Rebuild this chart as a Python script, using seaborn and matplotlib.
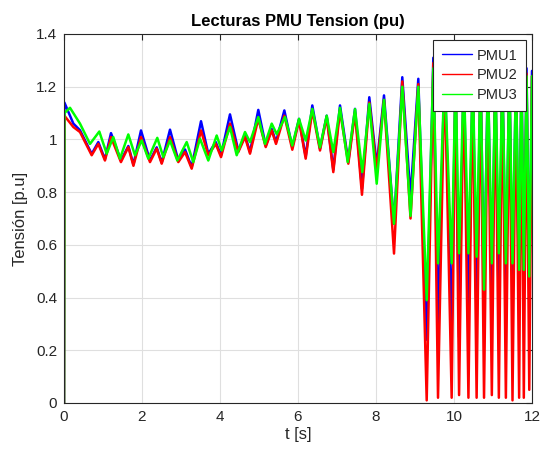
import numpy as np
import pandas as pd
import matplotlib
matplotlib.use("Agg")
import matplotlib.pyplot as plt
import seaborn as sns

# ---- data (peaks / troughs of each trace) ----
t_pmu1 = [0, 0.01, 0.24, 0.41, 0.71, 0.88, 1.05, 1.205, 1.46, 1.65, 1.78, 1.974, 2.205, 2.377, 2.505,
          2.718, 2.931, 3.103, 3.274, 3.513, 3.70, 3.89, 4.026, 4.256, 4.469, 4.641, 4.769, 4.982,
          5.172, 5.326, 5.436, 5.65, 5.854, 6.026, 6.197, 6.367, 6.564, 6.736, 6.905, 7.077, 7.29,
          7.462, 7.64, 7.828, 8.018, 8.205, 8.462, 8.674, 8.885, 9.085,
          9.30, 9.47, 9.59, 9.76, 9.94, 10.04, 10.13, 10.25, 10.37, 10.48, 10.58, 10.68, 10.77, 10.87,
          10.97, 11.06, 11.15, 11.24, 11.33, 11.42, 11.50, 11.59, 11.67, 11.73, 11.79, 11.86, 11.93, 12.0]
v_pmu1 = [0, 1.14, 1.06, 1.035, 0.945, 0.99, 0.925, 1.024, 0.92, 0.975, 0.905, 1.034, 0.92, 0.97, 0.912,
          1.037, 0.92, 0.962, 0.895, 1.069, 0.945, 0.99, 0.94, 1.095, 0.957, 1.015, 0.952, 1.112,
          0.976, 1.04, 0.99, 1.11, 0.97, 1.078, 0.935, 1.129, 0.965, 1.09, 0.885, 1.129, 0.915,
          1.116, 0.813, 1.16, 0.90, 1.167, 0.68, 1.236, 0.781, 1.23,
          0.24, 1.31, 0.29, 1.28, 0.277, 1.27, 0.25, 1.28, 0.30, 1.27, 0.29, 1.28, 0.40, 1.27,
          0.378, 1.28, 0.315, 1.27, 0.416, 1.28, 0.416, 1.27, 0.365, 1.28, 0.44, 1.27, 0.40, 1.26]

t_pmu2 = list(t_pmu1)
v_pmu2 = [0, 1.09, 1.047, 1.028, 0.94, 0.983, 0.92, 1.009, 0.914, 0.971, 0.90, 1.009, 0.914, 0.965, 0.908,
          1.009, 0.914, 0.952, 0.889, 1.034, 0.94, 0.983, 0.933, 1.06, 0.952, 1.009, 0.946, 1.078,
          0.971, 1.034, 0.983, 1.09, 0.961, 1.072, 0.927, 1.11, 0.958, 1.085, 0.876, 1.11, 0.908,
          1.10, 0.79, 1.14, 0.883, 1.15, 0.567, 1.22, 0.70, 1.21,
          0.01, 1.29, 0.02, 1.26, 0.02, 1.25, 0.03, 1.26, 0.02, 1.25, 0.02, 1.26, 0.02, 1.25,
          0.03, 1.26, 0.02, 1.25, 0.02, 1.26, 0.01, 1.25, 0.02, 1.26, 0.02, 1.25, 0.05, 1.24]

t_pmu3 = [0, 0.01, 0.154, 0.41, 0.667, 0.905, 1.095, 1.264, 1.436, 1.649, 1.82, 1.992, 2.162, 2.392, 2.546,
          2.718, 2.905, 3.146, 3.315, 3.487, 3.70, 3.915, 4.044, 4.256, 4.428, 4.641, 4.769, 4.982,
          5.154, 5.326, 5.454, 5.667, 5.854, 6.026, 6.197, 6.367, 6.564, 6.736, 6.905, 7.077, 7.274,
          7.462, 7.649, 7.828, 8.018, 8.205, 8.462, 8.674, 8.885, 9.085,
          9.30, 9.47, 9.59, 9.76, 9.94, 10.04, 10.13, 10.25, 10.37, 10.48, 10.58, 10.68, 10.77, 10.87,
          10.97, 11.06, 11.15, 11.24, 11.33, 11.42, 11.50, 11.59, 11.67, 11.73, 11.79, 11.86, 11.93, 12.0]
v_pmu3 = [0, 1.10, 1.12, 1.06, 0.983, 1.03, 0.946, 1.009, 0.927, 1.019, 0.94, 0.996, 0.927, 1.006, 0.933,
          0.996, 0.92, 0.99, 0.914, 1.003, 0.92, 1.015, 0.958, 1.047, 0.94, 1.028, 0.99, 1.085,
          0.983, 1.06, 1.02, 1.085, 0.977, 1.078, 0.996, 1.116, 0.97, 1.09, 0.952, 1.12, 0.914,
          1.115, 0.876, 1.135, 0.832, 1.15, 0.68, 1.20, 0.71, 1.20,
          0.39, 1.27, 0.53, 1.25, 0.53, 1.24, 0.568, 1.25, 0.568, 1.24, 0.555, 1.25, 0.43, 1.24,
          0.53, 1.25, 0.568, 1.24, 0.53, 1.25, 0.53, 1.24, 0.505, 1.25, 0.505, 1.24, 0.48, 1.24]

series_names = ["PMU1", "PMU2", "PMU3"]
series_colors = ["#0000FF", "#FF0000", "#00FF00"]
x_ticks = [0, 2, 4, 6, 8, 10, 12]
y_ticks = [0, 0.2, 0.4, 0.6, 0.8, 1.0, 1.2, 1.4]
y_tick_labels = ["0", "0.2", "0.4", "0.6", "0.8", "1", "1.2", "1.4"]

df = pd.concat([
    pd.DataFrame({"t": t_pmu1, "v": v_pmu1, "s": "PMU1"}),
    pd.DataFrame({"t": t_pmu2, "v": v_pmu2, "s": "PMU2"}),
    pd.DataFrame({"t": t_pmu3, "v": v_pmu3, "s": "PMU3"}),
], ignore_index=True)

sns.set_theme(style="white")
plt.rcParams["font.family"] = ["Liberation Sans", "DejaVu Sans"]

fig = plt.figure(figsize=(5.43, 4.51), dpi=100)
ax = fig.add_axes([64 / 543, 1 - 403 / 451, (532 - 64) / 543, (403 - 34) / 451])

sns.lineplot(data=df, x="t", y="v", hue="s", hue_order=series_names,
             palette=dict(zip(series_names, series_colors)), sort=False, estimator=None,
             linewidth=1.8, ax=ax)

ax.set_xlim(0, 12)
ax.set_ylim(0, 1.4)
ax.set_xticks(x_ticks)
ax.set_xticklabels([str(x) for x in x_ticks])
ax.set_yticks(y_ticks)
ax.set_yticklabels(y_tick_labels)
ax.grid(True, color="#DFDFDF", linewidth=0.8)
ax.set_axisbelow(True)
for sp in ax.spines.values():
    sp.set_color("#262626")
    sp.set_linewidth(0.8)
    sp.set_visible(True)
ax.tick_params(direction="in", top=True, right=True, length=4, width=0.8,
               labelsize=11, colors="#262626", pad=5)
ax.set_xlabel("t [s]", fontsize=12, color="#262626", labelpad=2)
ax.set_ylabel("Tensión [p.u]", fontsize=12, color="#262626", labelpad=6)
ax.set_title("Lecturas PMU Tension (pu)", fontsize=12, fontweight="bold", color="black", pad=6)

leg = ax.legend(loc="upper right", fancybox=False, framealpha=1, edgecolor="#262626",
                fontsize=10.5, handlelength=2.1, borderaxespad=0.4, borderpad=0.6,
                labelspacing=0.4, handletextpad=0.3)
leg.get_frame().set_linewidth(0.8)
for lh in leg.get_lines():
    lh.set_linewidth(1.0)

fig.savefig("out.png", dpi=100)
